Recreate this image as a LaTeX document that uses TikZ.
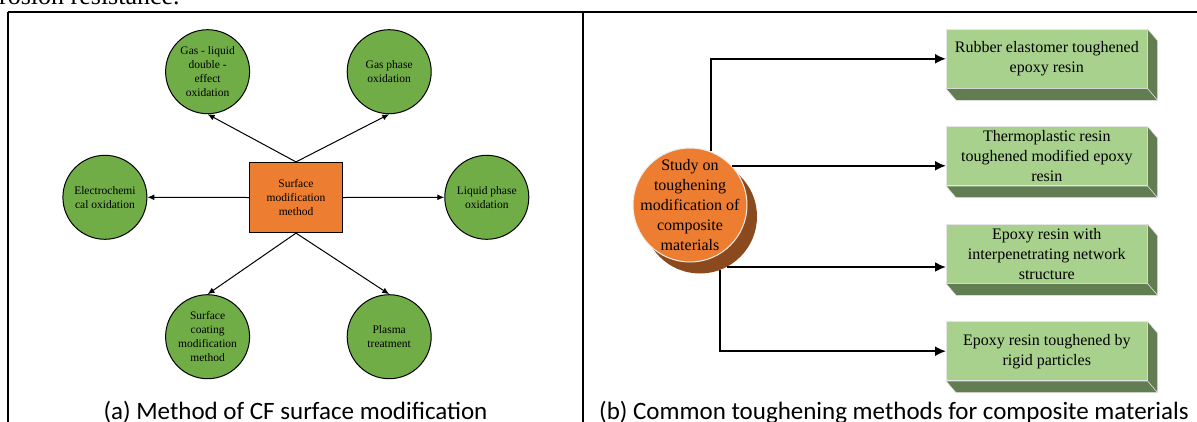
\documentclass[tikz,border=0pt]{standalone}
\usepackage{fontspec}
\setmainfont{Liberation Serif}
\newfontfamily\capfont{Carlito}
\usepackage{tikz}
\usepackage{xcolor}
\usetikzlibrary{positioning,arrows.meta}

\definecolor{leafgreen}{HTML}{70AD47}
\definecolor{boxorange}{HTML}{ED7D31}
\definecolor{shadebrown}{HTML}{8A4A1E}
\definecolor{palegreen}{HTML}{A9D18E}
\definecolor{darkgreen}{HTML}{617D51}

\begin{document}
\begin{tikzpicture}[x=1pt,y=-1pt,
	meth/.style={circle,draw,line width=1pt,fill=leafgreen,minimum size=84pt,inner sep=0pt,align=center,font=\fontsize{11.5}{14}\selectfont},
	core/.style={rectangle,draw,line width=1.2pt,fill=boxorange,minimum width=93pt,minimum height=70pt,inner sep=0pt,align=center,font=\fontsize{11.5}{14}\selectfont},
	way/.style={rectangle,draw=white!80!gray,line width=0.6pt,fill=palegreen,minimum width=201pt,minimum height=59pt,inner sep=0pt,align=center,font=\fontsize{16}{20}\selectfont},
	thinarr/.style={-{Latex[length=7pt,width=6pt]},line width=1pt},
	thickarr/.style={-{Latex[length=11pt,width=10pt]},line width=2pt},
	captext/.style={anchor=base,inner sep=0pt,font=\capfont\fontsize{25}{30}\selectfont}]
	\useasboundingbox (0,0) rectangle (1197,421);
	\clip (0,0) rectangle (1197,421);

	% frame of the two panels
	\node[anchor=base west,inner sep=0pt,font=\fontsize{26}{30}\selectfont] (prevline) at (-1,4) {rosion resistance.};
	\draw[line width=2pt] (7.5,11.5) -- (1210,11.5);
	\draw[line width=2pt] (7.5,11.5) -- (7.5,440);
	\draw[line width=2.3pt] (583,11.5) -- (583,440);

	% (a)
	\node[core] (surf) at (296,197.5) {Surface\\modification\\method};
	\node[meth] (gasliq) at (207.6,71.7) {Gas - liquid\\double -\\effect\\oxidation};
	\node[meth] (gasph) at (389.2,71.7) {Gas phase\\oxidation};
	\node[meth] (electro) at (104.9,197.3) {Electrochemi\\cal oxidation};
	\node[meth] (liqph) at (486.8,197.3) {Liquid phase\\oxidation};
	\node[meth] (coat) at (207.6,336.7) {Surface\\coating\\modification\\method};
	\node[meth] (plasma) at (389.2,336.7) {Plasma\\treatment};

	\draw[thinarr] (surf.north) -- (gasliq.south);
	\draw[thinarr] (surf.north) -- (gasph.south);
	\draw[thinarr] (surf.west) -- (electro.east);
	\draw[thinarr] (surf.east) -- (liqph.west);
	\draw[thinarr] (surf.south) -- (coat.north);
	\draw[thinarr] (surf.south) -- (plasma.north);

	\node[captext] (capa) at (295.5,419) {(a) Method of CF surface modification};

	% (b)
	\node[circle,fill=shadebrown,minimum size=114pt,inner sep=0pt] (studyshadow) at (700,216.5) {};
	\node[circle,draw=white!85!gray,line width=1pt,fill=boxorange,minimum size=114pt,inner sep=0pt,
		label={[align=center,font=\fontsize{16}{20}\selectfont]center:Study on\\toughening\\modification of\\composite\\materials}] (study) at (690,205) {};

	\node[way] (rubber) at (1046.8,58.8) {Rubber elastomer toughened\\epoxy resin};
	\node[way] (thermo) at (1046.8,156.2) {Thermoplastic resin\\toughened modified epoxy\\resin};
	\node[way] (interp) at (1046.8,253.8) {Epoxy resin with\\interpenetrating network\\structure};
	\node[way] (rigid) at (1046.8,351.2) {Epoxy resin toughened by\\rigid particles};
	\foreach \b in {rubber,thermo,interp,rigid}
		\filldraw[fill=darkgreen,draw=white!80!gray,line width=0.6pt] (\b.north east) -- ++(10,11.7) -- ([shift={(10,11.7)}]\b.south east)
			-- ([shift={(10,11.7)}]\b.south west) -- (\b.south west) -- (\b.south east) -- cycle
			(\b.south east) -- ++(10,11.7);

	\draw[thickarr] (study.69.5) |- (rubber.west);
	\draw[thickarr] (study.43.6) -- (study.43.6 -| thermo.west);
	\draw[thickarr] (studyshadow.-62) -- (studyshadow.-62 -| interp.west);
	\draw[thickarr] (studyshadow.-70) |- (rigid.west);

	\node[captext] (capb) at (894,419) {(b) Common toughening methods for composite materials};
\end{tikzpicture}
\end{document}
